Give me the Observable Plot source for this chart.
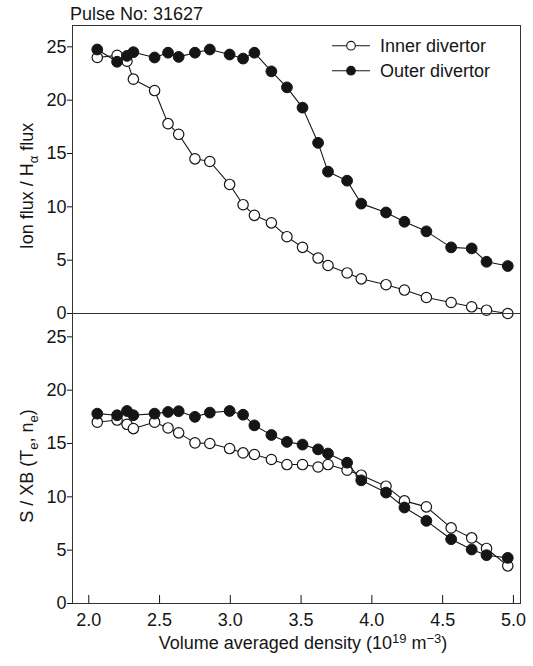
<!DOCTYPE html>
<html><head><meta charset="utf-8">
<script src="https://cdn.jsdelivr.net/npm/d3@7"></script>
<script src="https://cdn.jsdelivr.net/npm/@observablehq/plot@0.6"></script>
<style>
body{margin:0;background:#fff;}
#charts{width:533px;height:666px;}
#charts svg{display:block;}
</style></head><body><div id="charts"></div>
<script>
// ---- data ----
const titleText = "Pulse No: 31627";
const seriesNames = ["Inner divertor", "Outer divertor"];
const density = [2.06, 2.20, 2.27, 2.315, 2.465, 2.56, 2.635, 2.75, 2.855, 2.995, 3.09, 3.17, 3.29, 3.40, 3.51, 3.62, 3.69, 3.825, 3.925, 4.10, 4.23, 4.385, 4.56, 4.705, 4.81, 4.96];
const ionInner = [24.0, 24.2, 23.65, 21.97, 20.9, 17.8, 16.8, 14.5, 14.25, 12.1, 10.2, 9.2, 8.5, 7.2, 6.2, 5.2, 4.5, 3.8, 3.25, 2.7, 2.2, 1.5, 1.03, 0.63, 0.31, 0.0];
const ionOuter = [24.75, 23.6, 24.15, 24.5, 24.0, 24.45, 24.06, 24.45, 24.75, 24.28, 23.9, 24.45, 22.7, 21.2, 19.3, 16.0, 13.3, 12.45, 10.3, 9.47, 8.6, 7.7, 6.2, 6.1, 4.85, 4.45];
const sxbInner = [17.0, 17.2, 16.8, 16.4, 17.0, 16.46, 16.0, 15.06, 15.0, 14.53, 14.12, 13.97, 13.5, 13.03, 13.03, 12.8, 13.03, 12.5, 12.03, 11.0, 9.62, 9.06, 7.09, 6.15, 5.16, 3.53];
const sxbOuter = [17.8, 17.65, 18.05, 17.65, 17.8, 17.96, 18.03, 17.5, 17.9, 18.05, 17.7, 16.7, 15.8, 15.15, 14.9, 14.45, 14.06, 13.2, 11.55, 10.4, 9.0, 7.75, 6.03, 5.06, 4.53, 4.28];
const yTicks = [0, 5, 10, 15, 20, 25];
const xTicks = [2.0, 2.5, 3.0, 3.5, 4.0, 4.5, 5.0];

// ---- chart ----
const font = "'Liberation Sans', Arial, Helvetica, sans-serif";
const ink = "#151515";
const rows = ys => density.map((x, i) => ({x, y: ys[i]}));

function panel(inner, outer, o) {
  return Plot.plot({
    width: 533, height: o.height,
    marginLeft: 72, marginRight: 13, marginTop: o.mt, marginBottom: o.mb,
    style: {fontFamily: font, fontSize: "18px", color: ink, background: "white", overflow: "visible"},
    x: {domain: [1.885, 5.05], axis: null},
    y: {domain: [0, o.ymax], axis: null},
    marks: [
      Plot.frame({stroke: "#333", strokeWidth: 1}),
      Plot.axisY({ticks: yTicks, tickSize: 5, tickPadding: 1, label: null, stroke: ink}),
      ...(o.xaxis ? [Plot.axisX({ticks: xTicks, tickFormat: d => d.toFixed(1), tickSize: -8, tickPadding: 18, label: null, stroke: ink})] : []),
      Plot.line(rows(inner), {x: "x", y: "y", stroke: ink, strokeWidth: 1.1}),
      Plot.dot(rows(inner), {x: "x", y: "y", r: 5.2, fill: "white", stroke: ink, strokeWidth: 1.2}),
      Plot.line(rows(outer), {x: "x", y: "y", stroke: ink, strokeWidth: 1.1}),
      Plot.dot(rows(outer), {x: "x", y: "y", r: 5.4, fill: ink, stroke: ink, strokeWidth: 1})
    ]
  });
}

const topPanel = panel(ionInner, ionOuter, {height: 313, mt: 25, mb: 0, ymax: 27.0});
const botPanel = panel(sxbInner, sxbOuter, {height: 353, mt: 0, mb: 63, ymax: 27.19, xaxis: true});
document.getElementById("charts").append(topPanel, botPanel);

function addText(svg, x, y, parts, rotate, anchor = "middle") {
  const t = d3.select(svg).append("text")
    .attr("transform", `translate(${x},${y})` + (rotate ? " rotate(-90)" : ""))
    .attr("text-anchor", anchor).attr("fill", ink)
    .style("font-family", font).style("font-size", "18px");
  let shift = 0;
  for (const p of parts) {
    const s = t.append("tspan").text(p.t);
    const target = p.sub ? 5 : p.sup ? -6 : 0;
    if (target !== shift) { s.attr("dy", target - shift); shift = target; }
    if (p.sub || p.sup) s.style("font-size", "13px");
  }
  return t;
}

// title
addText(topPanel, 70, 20, [{t: titleText}], false, "start");
// y labels
addText(topPanel, 33, 186, [{t: "Ion flux / H"}, {t: "α", sub: true}, {t: " flux"}], true);
addText(botPanel, 33, 153, [{t: "S / XB (T"}, {t: "e", sub: true}, {t: ", n"}, {t: "e", sub: true}, {t: ")"}], true);
// x label
addText(botPanel, 303, 336, [{t: "Volume averaged density (10"}, {t: "19", sup: true}, {t: " m"}, {t: "−3", sup: true}, {t: ")"}], false);

// legend
const lg = d3.select(topPanel).append("g");
seriesNames.forEach((name, i) => {
  const y = 45.7 + 25 * i;
  lg.append("line").attr("x1", 332).attr("x2", 370).attr("y1", y).attr("y2", y).attr("stroke", ink).attr("stroke-width", 1.1);
  lg.append("circle").attr("cx", 351).attr("cy", y).attr("r", 4.3)
    .attr("fill", i === 0 ? "white" : ink).attr("stroke", ink).attr("stroke-width", 1.1);
  lg.append("text").attr("x", 380).attr("y", y + 6.5).attr("fill", ink).attr("text-anchor", "start")
    .style("font-family", font).style("font-size", "18px").text(name);
});
</script></body></html>
